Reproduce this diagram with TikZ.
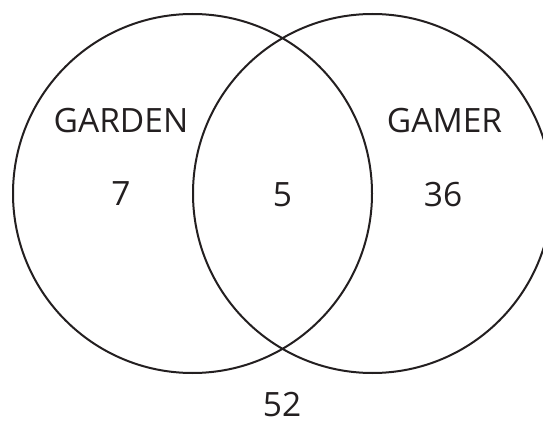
\documentclass[tikz,border=0pt]{standalone}
\usepackage{fontspec}
\setmainfont{Open Sans}
\definecolor{ink}{HTML}{231F20}
\begin{document}
\begin{tikzpicture}[x=1pt,y=-1pt,
  ring/.style={draw=ink,line width=2pt},
  lbl/.style={text=ink,font=\fontsize{33.5}{34}\selectfont,anchor=base,inner sep=0pt}]
\useasboundingbox (0,0) rectangle (543,422);
\begin{scope}
\clip (0,0) rectangle (543,422);
\node[ring,circle,minimum size=359pt,inner sep=0pt] (garden) at (192.5,193.5) {};
\node[ring,circle,minimum size=359pt,inner sep=0pt] (gamer) at (372.5,193.5) {};
\end{scope}
\node[lbl] (gardenlbl) at (121,133) {GARDEN};
\node[lbl] (gamerlbl) at (444.5,133) {GAMER};
\node[lbl] (only1) at (121,205) {7};
\node[lbl] (both) at (282.5,206) {5};
\node[lbl] (only2) at (443,206) {36};
\node[lbl] (neither) at (282,416) {52};
\end{tikzpicture}
\end{document}
